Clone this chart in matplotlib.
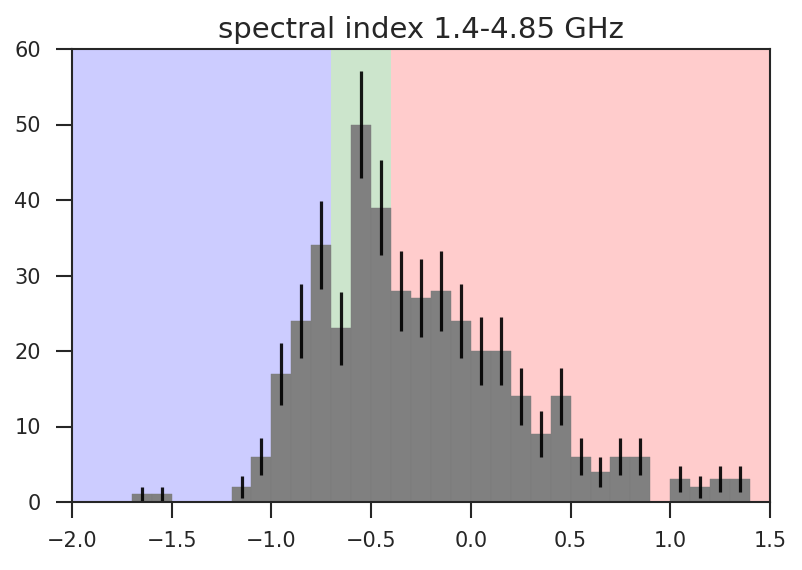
import numpy as np
import matplotlib.pyplot as plt
import seaborn as sns

sns.set_style('ticks')
plt.rcParams['font.family'] = ['DejaVu Sans']

# histogram of spectral index, bins of 0.1 from -2.0 to 1.5
bin_edges = np.round(np.arange(-2.0, 1.51, 0.1), 2)
counts = [0, 0, 0, 1, 1, 0, 0, 0, 2, 6,
          17, 24, 34, 23, 50, 39, 28, 27, 28, 24,
          20, 20, 14, 9, 14, 6, 4, 6, 6, 0,
          3, 2, 3, 3, 0]

# regions
steep_lim = -0.7
flat_lim = -0.4

counts = np.array(counts)
centers = 0.5 * (bin_edges[:-1] + bin_edges[1:])
errors = np.sqrt(counts)

fig = plt.figure(figsize=(8.02, 5.70), dpi=100)
ax = fig.add_axes([72 / 802, 1 - 502 / 570, 698 / 802, 453 / 570])

ax.axvspan(-2.0, steep_lim, color='b', alpha=0.2, lw=0)
ax.axvspan(steep_lim, flat_lim, color='g', alpha=0.2, lw=0)
ax.axvspan(flat_lim, 1.5, color='r', alpha=0.2, lw=0)

ax.bar(bin_edges[:-1], counts, width=0.1, align='edge', color='gray',
       edgecolor='#7a7a7a', lw=0.3)
mask = counts > 0
ax.errorbar(centers[mask], counts[mask], yerr=errors[mask], fmt='none',
            ecolor='k', elinewidth=2.3, capsize=0, alpha=0.9)

ax.set_xlim(-2.0, 1.5)
ax.set_ylim(0, 60)
ax.set_title('spectral index 1.4-4.85 GHz', fontsize=21, pad=8)
ax.tick_params(labelsize=15, length=11.5, width=1.5)
ax.tick_params(axis='y', pad=11)
ax.tick_params(axis='x', pad=9.5)
for s in ax.spines.values():
    s.set_linewidth(1.5)
    s.set_color('#262626')

fig.savefig('out.png', dpi=100)
